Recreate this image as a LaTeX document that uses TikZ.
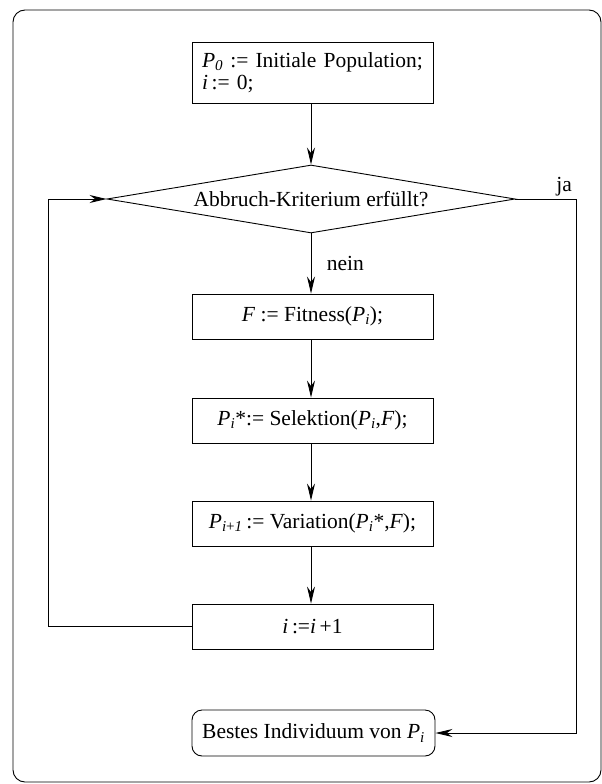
\documentclass[tikz,border=0pt]{standalone}
\usepackage{fontspec}
\setmainfont{Liberation Serif}
\usepackage{tikz}
\usetikzlibrary{positioning,arrows.meta,shapes.geometric}

\newcommand{\vP}{\textit{P}}
\newcommand{\vi}{\textit{i}}

\begin{document}
\begin{tikzpicture}[x=1pt, y=-1pt, font=\fontsize{21.5}{22}\selectfont, >={Stealth[length=17pt,width=8pt]},
  line width=0.9pt,
  blk/.style={draw, minimum width=241pt, minimum height=45pt, inner sep=0pt, align=center},
  cond/.style={draw, diamond, aspect=6, minimum width=408pt, minimum height=68pt, inner sep=0pt},
  endbox/.style={draw, rounded corners=10pt, minimum width=243pt, minimum height=46pt, inner sep=0pt}]
\useasboundingbox (0,0) rectangle (602,784);
\draw[rounded corners=12pt] (13,10) rectangle (601,782);
\node[blk, minimum height=61pt, text width=221pt, align=left] (init) at (312.5,72.5)
  {\vP\textsubscript{\textit{0}} := Initiale Population;\\ \vi\,:= 0;};
\node[cond] (stop) at (311,199) {Abbruch-Kriterium erfüllt?};
\node[blk] (fit) at (312.5,316.5) {\textit{F} := Fitness(\vP\textsubscript{\vi});};
\node[blk] (sel) at (312.5,420.5) {\vP\textsubscript{\vi}*:= Selektion(\vP\textsubscript{\vi},\textit{F});};
\node[blk] (var) at (312.5,523.5) {\vP\textsubscript{\textit{i}+\textit{1}}\,:= Variation(\vP\textsubscript{\vi}*,\textit{F});};
\node[blk] (inc) at (312.5,626.5) {\vi\,:=\vi\,+1};
\node[endbox] (best) at (313.5,733) {Bestes Individuum von \vP\textsubscript{\vi}};
\draw[->] (init.south -| stop.north) -- (stop.north);
\draw[->] (stop.south) -- (fit.north -| stop.south) node[midway,right=12pt]{nein};
\draw[->] (fit.south -| stop.south) -- (sel.north -| stop.south);
\draw[->] (sel.south -| stop.south) -- (var.north -| stop.south);
\draw[->] (var.south -| stop.south) -- (inc.north -| stop.south);
% back loop and exit
\draw[->] (inc.west) -- ++(-143,0) |- (stop.west);
\draw[->] (stop.east) -- ++(61,0) node[pos=0.8, above=-1pt]{ja} |- (best.east);
\end{tikzpicture}
\end{document}
